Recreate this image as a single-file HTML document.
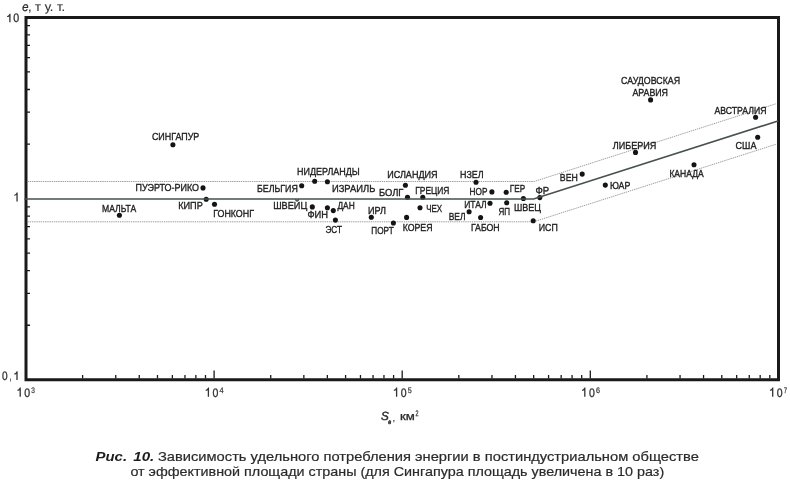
<!DOCTYPE html>
<html><head><meta charset="utf-8"><style>
html,body{margin:0;padding:0;background:#fff;}
body{width:790px;height:484px;overflow:hidden;position:relative;font-family:"Liberation Sans",sans-serif;}
svg{position:absolute;left:0;top:0;will-change:transform;}
text{font-family:"Liberation Sans",sans-serif;}
</style></head><body>
<svg width="790" height="484" viewBox="0 0 790 484">
<path d="M82.62 378.5V375 M115.75 378.5V375 M139.25 378.5V375 M157.48 378.5V375 M172.37 378.5V375 M184.96 378.5V375 M195.87 378.5V375 M205.49 378.5V375 M270.72 378.5V375 M303.85 378.5V375 M327.35 378.5V375 M345.58 378.5V375 M360.47 378.5V375 M373.06 378.5V375 M383.97 378.5V375 M393.59 378.5V375 M214.10 378.5V370.5 M458.82 378.5V375 M491.95 378.5V375 M515.45 378.5V375 M533.68 378.5V375 M548.57 378.5V375 M561.16 378.5V375 M572.07 378.5V375 M581.69 378.5V375 M402.20 378.5V370.5 M646.92 378.5V375 M680.05 378.5V375 M703.55 378.5V375 M721.78 378.5V375 M736.67 378.5V375 M749.26 378.5V375 M760.17 378.5V375 M769.79 378.5V375 M590.30 378.5V370.5 M27 325.25H30 M27 293.35H30 M27 270.71H30 M27 253.15H30 M27 238.80H30 M27 226.67H30 M27 216.16H30 M27 206.89H30 M27 144.05H30 M27 112.15H30 M27 89.51H30 M27 71.95H30 M27 57.60H30 M27 45.47H30 M27 34.96H30 M27 25.69H30" stroke="#1a1a1a" stroke-width="1.3" fill="none"/>
<path d="M26 379.8V17.4H778.5V379.8Z" fill="none" stroke="#1a1a1a" stroke-width="3"/>
<polyline points="27.5,181.5 534.2,181.5 776.5,103.6" fill="none" stroke="#999" stroke-width="0.95" stroke-dasharray="1.4 0.8"/>
<polyline points="27.5,221.8 533.6,221.8 776.5,144.1" fill="none" stroke="#999" stroke-width="0.95" stroke-dasharray="1.4 0.8"/>
<path d="M10.55 13.80V22.30H9.25V16.40C8.70 16.90 7.70 17.00 7.10 17.00V16.00C8.30 15.90 9.20 15.00 9.50 13.80Z" fill="#333"/>
<path d="M17.70 192.50V201.40H16.40V195.10C15.85 195.60 14.85 195.70 14.25 195.70V194.70C15.45 194.60 16.35 193.70 16.65 192.50Z" fill="#333"/>
<path d="M17.65 371.30V379.90H16.35V373.90C15.80 374.40 14.80 374.50 14.20 374.50V373.50C15.40 373.40 16.30 372.50 16.60 371.30Z" fill="#333"/>
<path d="M20.85 387.60V396.70H19.55V390.20C19.00 390.70 18.00 390.80 17.40 390.80V389.80C18.60 389.70 19.50 388.80 19.80 387.60Z" fill="#333"/>
<path d="M209.05 387.60V396.70H207.75V390.20C207.20 390.70 206.20 390.80 205.60 390.80V389.80C206.80 389.70 207.70 388.80 208.00 387.60Z" fill="#333"/>
<path d="M397.25 387.60V396.70H395.95V390.20C395.40 390.70 394.40 390.80 393.80 390.80V389.80C395.00 389.70 395.90 388.80 396.20 387.60Z" fill="#333"/>
<path d="M585.45 387.60V396.70H584.15V390.20C583.60 390.70 582.60 390.80 582.00 390.80V389.80C583.20 389.70 584.10 388.80 584.40 387.60Z" fill="#333"/>
<path d="M773.35 387.60V396.70H772.05V390.20C771.50 390.70 770.50 390.80 769.90 390.80V389.80C771.10 389.70 772.00 388.80 772.30 387.60Z" fill="#333"/>
<circle cx="172.9" cy="144.7" r="2.55" fill="#141414"/>
<circle cx="203.0" cy="187.9" r="2.55" fill="#141414"/>
<circle cx="119.4" cy="215.2" r="2.55" fill="#141414"/>
<circle cx="206.2" cy="199.3" r="2.55" fill="#141414"/>
<circle cx="214.5" cy="204.2" r="2.55" fill="#141414"/>
<circle cx="301.7" cy="185.7" r="2.55" fill="#141414"/>
<circle cx="314.7" cy="181.3" r="2.55" fill="#141414"/>
<circle cx="327.4" cy="181.8" r="2.55" fill="#141414"/>
<circle cx="312.3" cy="206.9" r="2.55" fill="#141414"/>
<circle cx="327.4" cy="207.7" r="2.55" fill="#141414"/>
<circle cx="333.3" cy="210.6" r="2.55" fill="#141414"/>
<circle cx="335.4" cy="220.1" r="2.55" fill="#141414"/>
<circle cx="371.3" cy="217.2" r="2.55" fill="#141414"/>
<circle cx="393.4" cy="223" r="2.55" fill="#141414"/>
<circle cx="406.6" cy="217.4" r="2.55" fill="#141414"/>
<circle cx="407.5" cy="197.3" r="2.55" fill="#141414"/>
<circle cx="405.4" cy="185.3" r="2.55" fill="#141414"/>
<circle cx="420" cy="207.8" r="2.55" fill="#141414"/>
<circle cx="422.8" cy="197.2" r="2.55" fill="#141414"/>
<circle cx="476" cy="182.2" r="2.55" fill="#141414"/>
<circle cx="491.9" cy="191.9" r="2.55" fill="#141414"/>
<circle cx="506.2" cy="192.3" r="2.55" fill="#141414"/>
<circle cx="490" cy="203.3" r="2.55" fill="#141414"/>
<circle cx="469.1" cy="211.8" r="2.55" fill="#141414"/>
<circle cx="480.6" cy="217.5" r="2.55" fill="#141414"/>
<circle cx="506.7" cy="202.8" r="2.55" fill="#141414"/>
<circle cx="523.4" cy="198.5" r="2.55" fill="#141414"/>
<circle cx="539.8" cy="197.6" r="2.55" fill="#141414"/>
<circle cx="533.2" cy="220.7" r="2.55" fill="#141414"/>
<circle cx="582.2" cy="174.1" r="2.55" fill="#141414"/>
<circle cx="605.3" cy="185.1" r="2.55" fill="#141414"/>
<circle cx="635.5" cy="152.4" r="2.55" fill="#141414"/>
<circle cx="650.6" cy="99.9" r="2.55" fill="#141414"/>
<circle cx="755.6" cy="117.3" r="2.55" fill="#141414"/>
<circle cx="757.7" cy="137.3" r="2.55" fill="#141414"/>
<circle cx="694" cy="164.8" r="2.55" fill="#141414"/>
<polyline points="24.4,199.0 533.6,199.0 778,121.0" fill="none" stroke="#485050" stroke-width="1.7"/>
<text x="151.90" y="140" textLength="47.40" lengthAdjust="spacingAndGlyphs" style="font-size:10.2px;fill:#1e1e1e;stroke:#1e1e1e;stroke-width:0.35px;text-rendering:geometricPrecision;">СИНГАПУР</text>
<text x="135.50" y="191.3" textLength="63.60" lengthAdjust="spacingAndGlyphs" style="font-size:10.2px;fill:#1e1e1e;stroke:#1e1e1e;stroke-width:0.35px;text-rendering:geometricPrecision;">ПУЭРТО-РИКО</text>
<text x="102.00" y="211.8" textLength="34.21" lengthAdjust="spacingAndGlyphs" style="font-size:10.2px;fill:#1e1e1e;stroke:#1e1e1e;stroke-width:0.35px;text-rendering:geometricPrecision;">МАЛЬТА</text>
<text x="178.20" y="209" textLength="24.61" lengthAdjust="spacingAndGlyphs" style="font-size:10.2px;fill:#1e1e1e;stroke:#1e1e1e;stroke-width:0.35px;text-rendering:geometricPrecision;">КИПР</text>
<text x="213.20" y="216.6" textLength="40.78" lengthAdjust="spacingAndGlyphs" style="font-size:10.2px;fill:#1e1e1e;stroke:#1e1e1e;stroke-width:0.35px;text-rendering:geometricPrecision;">ГОНКОНГ</text>
<text x="297.00" y="175.0" textLength="62.69" lengthAdjust="spacingAndGlyphs" style="font-size:10.2px;fill:#1e1e1e;stroke:#1e1e1e;stroke-width:0.35px;text-rendering:geometricPrecision;">НИДЕРЛАНДЫ</text>
<text x="257.00" y="191.5" textLength="40.81" lengthAdjust="spacingAndGlyphs" style="font-size:10.2px;fill:#1e1e1e;stroke:#1e1e1e;stroke-width:0.35px;text-rendering:geometricPrecision;">БЕЛЬГИЯ</text>
<text x="331.90" y="191.5" textLength="43.40" lengthAdjust="spacingAndGlyphs" style="font-size:10.2px;fill:#1e1e1e;stroke:#1e1e1e;stroke-width:0.35px;text-rendering:geometricPrecision;">ИЗРАИЛЬ</text>
<text x="273.20" y="208.7" textLength="34.05" lengthAdjust="spacingAndGlyphs" style="font-size:10.2px;fill:#1e1e1e;stroke:#1e1e1e;stroke-width:0.35px;text-rendering:geometricPrecision;">ШВЕЙЦ</text>
<text x="307.40" y="218" textLength="20.60" lengthAdjust="spacingAndGlyphs" style="font-size:10.2px;fill:#1e1e1e;stroke:#1e1e1e;stroke-width:0.35px;text-rendering:geometricPrecision;">ФИН</text>
<text x="337.44" y="208.9" textLength="17.27" lengthAdjust="spacingAndGlyphs" style="font-size:10.2px;fill:#1e1e1e;stroke:#1e1e1e;stroke-width:0.35px;text-rendering:geometricPrecision;">ДАН</text>
<text x="325.50" y="232.7" textLength="16.46" lengthAdjust="spacingAndGlyphs" style="font-size:10.2px;fill:#1e1e1e;stroke:#1e1e1e;stroke-width:0.35px;text-rendering:geometricPrecision;">ЭСТ</text>
<text x="368.00" y="213.6" textLength="18.00" lengthAdjust="spacingAndGlyphs" style="font-size:10.2px;fill:#1e1e1e;stroke:#1e1e1e;stroke-width:0.35px;text-rendering:geometricPrecision;">ИРЛ</text>
<text x="371.30" y="234.3" textLength="22.40" lengthAdjust="spacingAndGlyphs" style="font-size:10.2px;fill:#1e1e1e;stroke:#1e1e1e;stroke-width:0.35px;text-rendering:geometricPrecision;">ПОРТ</text>
<text x="402.70" y="230.8" textLength="29.81" lengthAdjust="spacingAndGlyphs" style="font-size:10.2px;fill:#1e1e1e;stroke:#1e1e1e;stroke-width:0.35px;text-rendering:geometricPrecision;">КОРЕЯ</text>
<text x="426.20" y="212.4" textLength="16.00" lengthAdjust="spacingAndGlyphs" style="font-size:10.2px;fill:#1e1e1e;stroke:#1e1e1e;stroke-width:0.35px;text-rendering:geometricPrecision;">ЧЕХ</text>
<text x="378.90" y="196.3" textLength="24.55" lengthAdjust="spacingAndGlyphs" style="font-size:10.2px;fill:#1e1e1e;stroke:#1e1e1e;stroke-width:0.35px;text-rendering:geometricPrecision;">БОЛГ</text>
<text x="387.20" y="178.1" textLength="50.40" lengthAdjust="spacingAndGlyphs" style="font-size:10.2px;fill:#1e1e1e;stroke:#1e1e1e;stroke-width:0.35px;text-rendering:geometricPrecision;">ИСЛАНДИЯ</text>
<text x="415.20" y="193.7" textLength="34.20" lengthAdjust="spacingAndGlyphs" style="font-size:10.2px;fill:#1e1e1e;stroke:#1e1e1e;stroke-width:0.35px;text-rendering:geometricPrecision;">ГРЕЦИЯ</text>
<text x="460.00" y="178.1" textLength="23.62" lengthAdjust="spacingAndGlyphs" style="font-size:10.2px;fill:#1e1e1e;stroke:#1e1e1e;stroke-width:0.35px;text-rendering:geometricPrecision;">НЗЕЛ</text>
<text x="469.60" y="195.4" textLength="17.82" lengthAdjust="spacingAndGlyphs" style="font-size:10.2px;fill:#1e1e1e;stroke:#1e1e1e;stroke-width:0.35px;text-rendering:geometricPrecision;">НОР</text>
<text x="464.20" y="208.3" textLength="22.42" lengthAdjust="spacingAndGlyphs" style="font-size:10.2px;fill:#1e1e1e;stroke:#1e1e1e;stroke-width:0.35px;text-rendering:geometricPrecision;">ИТАЛ</text>
<text x="448.70" y="219.8" textLength="16.82" lengthAdjust="spacingAndGlyphs" style="font-size:10.2px;fill:#1e1e1e;stroke:#1e1e1e;stroke-width:0.35px;text-rendering:geometricPrecision;">ВЕЛ</text>
<text x="470.90" y="230.8" textLength="28.81" lengthAdjust="spacingAndGlyphs" style="font-size:10.2px;fill:#1e1e1e;stroke:#1e1e1e;stroke-width:0.35px;text-rendering:geometricPrecision;">ГАБОН</text>
<text x="498.50" y="214.6" textLength="11.60" lengthAdjust="spacingAndGlyphs" style="font-size:10.2px;fill:#1e1e1e;stroke:#1e1e1e;stroke-width:0.35px;text-rendering:geometricPrecision;">ЯП</text>
<text x="509.80" y="191.9" textLength="15.34" lengthAdjust="spacingAndGlyphs" style="font-size:10.2px;fill:#1e1e1e;stroke:#1e1e1e;stroke-width:0.35px;text-rendering:geometricPrecision;">ГЕР</text>
<text x="535.50" y="193.7" textLength="13.73" lengthAdjust="spacingAndGlyphs" style="font-size:10.2px;fill:#1e1e1e;stroke:#1e1e1e;stroke-width:0.35px;text-rendering:geometricPrecision;">ФР</text>
<text x="513.90" y="210.5" textLength="27.02" lengthAdjust="spacingAndGlyphs" style="font-size:10.2px;fill:#1e1e1e;stroke:#1e1e1e;stroke-width:0.35px;text-rendering:geometricPrecision;">ШВЕЦ</text>
<text x="538.70" y="230.9" textLength="19.03" lengthAdjust="spacingAndGlyphs" style="font-size:10.2px;fill:#1e1e1e;stroke:#1e1e1e;stroke-width:0.35px;text-rendering:geometricPrecision;">ИСП</text>
<text x="559.80" y="180.7" textLength="18.00" lengthAdjust="spacingAndGlyphs" style="font-size:10.2px;fill:#1e1e1e;stroke:#1e1e1e;stroke-width:0.35px;text-rendering:geometricPrecision;">ВЕН</text>
<text x="609.90" y="189.2" textLength="20.40" lengthAdjust="spacingAndGlyphs" style="font-size:10.2px;fill:#1e1e1e;stroke:#1e1e1e;stroke-width:0.35px;text-rendering:geometricPrecision;">ЮАР</text>
<text x="612.80" y="148.8" textLength="43.61" lengthAdjust="spacingAndGlyphs" style="font-size:10.2px;fill:#1e1e1e;stroke:#1e1e1e;stroke-width:0.35px;text-rendering:geometricPrecision;">ЛИБЕРИЯ</text>
<text x="621.00" y="83.5" textLength="59.00" lengthAdjust="spacingAndGlyphs" style="font-size:10.2px;fill:#1e1e1e;stroke:#1e1e1e;stroke-width:0.35px;text-rendering:geometricPrecision;">САУДОВСКАЯ</text>
<text x="632.40" y="95.9" textLength="35.60" lengthAdjust="spacingAndGlyphs" style="font-size:10.2px;fill:#1e1e1e;stroke:#1e1e1e;stroke-width:0.35px;text-rendering:geometricPrecision;">АРАВИЯ</text>
<text x="714.50" y="114" textLength="52.01" lengthAdjust="spacingAndGlyphs" style="font-size:10.2px;fill:#1e1e1e;stroke:#1e1e1e;stroke-width:0.35px;text-rendering:geometricPrecision;">АВСТРАЛИЯ</text>
<text x="735.50" y="148.5" textLength="21.00" lengthAdjust="spacingAndGlyphs" style="font-size:10.2px;fill:#1e1e1e;stroke:#1e1e1e;stroke-width:0.35px;text-rendering:geometricPrecision;">США</text>
<text x="669.40" y="176.5" textLength="34.28" lengthAdjust="spacingAndGlyphs" style="font-size:10.2px;fill:#1e1e1e;stroke:#1e1e1e;stroke-width:0.35px;text-rendering:geometricPrecision;">КАНАДА</text>
<text x="13.20" y="22.3" textLength="5.93" lengthAdjust="spacingAndGlyphs" style="font-size:12.3px;fill:#2e2e2e;stroke:#2e2e2e;stroke-width:0.3px;text-rendering:geometricPrecision;">0</text>
<text x="2.00" y="379.9" textLength="5.61" lengthAdjust="spacingAndGlyphs" style="font-size:12.3px;fill:#2e2e2e;stroke:#2e2e2e;stroke-width:0.3px;text-rendering:geometricPrecision;">0</text>
<text x="9.75" y="379.9" textLength="1.66" lengthAdjust="spacingAndGlyphs" style="font-size:12.3px;fill:#2e2e2e;stroke:#2e2e2e;stroke-width:0.3px;text-rendering:geometricPrecision;">,</text>
<text x="24.30" y="396.7" textLength="5.86" lengthAdjust="spacingAndGlyphs" style="font-size:12.3px;fill:#2e2e2e;stroke:#2e2e2e;stroke-width:0.3px;text-rendering:geometricPrecision;">0</text>
<text x="31.30" y="392.8" textLength="3.61" lengthAdjust="spacingAndGlyphs" style="font-size:8.0px;fill:#3a3a3a;stroke:#3a3a3a;stroke-width:0.25px;text-rendering:geometricPrecision;">3</text>
<text x="212.50" y="396.7" textLength="5.86" lengthAdjust="spacingAndGlyphs" style="font-size:12.3px;fill:#2e2e2e;stroke:#2e2e2e;stroke-width:0.3px;text-rendering:geometricPrecision;">0</text>
<text x="219.50" y="392.8" textLength="4.09" lengthAdjust="spacingAndGlyphs" style="font-size:8.0px;fill:#3a3a3a;stroke:#3a3a3a;stroke-width:0.25px;text-rendering:geometricPrecision;">4</text>
<text x="400.70" y="396.7" textLength="5.86" lengthAdjust="spacingAndGlyphs" style="font-size:12.3px;fill:#2e2e2e;stroke:#2e2e2e;stroke-width:0.3px;text-rendering:geometricPrecision;">0</text>
<text x="407.70" y="392.8" textLength="4.00" lengthAdjust="spacingAndGlyphs" style="font-size:8.0px;fill:#3a3a3a;stroke:#3a3a3a;stroke-width:0.25px;text-rendering:geometricPrecision;">5</text>
<text x="588.90" y="396.7" textLength="5.86" lengthAdjust="spacingAndGlyphs" style="font-size:12.3px;fill:#2e2e2e;stroke:#2e2e2e;stroke-width:0.3px;text-rendering:geometricPrecision;">0</text>
<text x="595.90" y="392.8" textLength="4.00" lengthAdjust="spacingAndGlyphs" style="font-size:8.0px;fill:#3a3a3a;stroke:#3a3a3a;stroke-width:0.25px;text-rendering:geometricPrecision;">6</text>
<text x="776.80" y="396.7" textLength="5.86" lengthAdjust="spacingAndGlyphs" style="font-size:12.3px;fill:#2e2e2e;stroke:#2e2e2e;stroke-width:0.3px;text-rendering:geometricPrecision;">0</text>
<text x="783.65" y="392.8" textLength="3.35" lengthAdjust="spacingAndGlyphs" style="font-size:8.0px;fill:#3a3a3a;stroke:#3a3a3a;stroke-width:0.25px;text-rendering:geometricPrecision;">7</text>
<text x="22.30" y="11.2" textLength="6.25" lengthAdjust="spacingAndGlyphs" style="font-size:12.5px;font-style:italic;fill:#2e2e2e;stroke:#2e2e2e;stroke-width:0.35px;text-rendering:geometricPrecision;">e</text>
<text x="27.94" y="11.2" textLength="37.12" lengthAdjust="spacingAndGlyphs" style="font-size:12.5px;fill:#333;stroke:#333;stroke-width:0.12px;text-rendering:geometricPrecision;">, т у. т.</text>
<text x="380.90" y="419.8" textLength="7.79" lengthAdjust="spacingAndGlyphs" style="font-size:11.8px;font-style:italic;fill:#2e2e2e;stroke:#2e2e2e;stroke-width:0.45px;text-rendering:geometricPrecision;">S</text>
<text x="388.30" y="424.3" textLength="2.93" lengthAdjust="spacingAndGlyphs" style="font-size:6.5px;font-style:italic;fill:#2e2e2e;stroke:#2e2e2e;stroke-width:0.5px;text-rendering:geometricPrecision;">e</text>
<text x="393.07" y="420.5" textLength="1.81" lengthAdjust="spacingAndGlyphs" style="font-size:9px;fill:#2e2e2e;stroke:#2e2e2e;stroke-width:0.3px;text-rendering:geometricPrecision;">,</text>
<text x="399.90" y="419.8" textLength="14.82" lengthAdjust="spacingAndGlyphs" style="font-size:11.2px;fill:#2e2e2e;stroke:#2e2e2e;stroke-width:0.3px;text-rendering:geometricPrecision;">км</text>
<text x="415.60" y="415.7" textLength="2.99" lengthAdjust="spacingAndGlyphs" style="font-size:8.0px;fill:#2e2e2e;stroke:#2e2e2e;stroke-width:0.25px;text-rendering:geometricPrecision;">2</text>
<text x="95.60" y="460.9" textLength="31.45" lengthAdjust="spacingAndGlyphs" style="font-size:13.3px;font-style:italic;font-weight:bold;fill:#1c1c1c;">Рис.</text>
<text x="133.23" y="460.9" textLength="21.09" lengthAdjust="spacingAndGlyphs" style="font-size:13.3px;font-style:italic;font-weight:bold;fill:#1c1c1c;">10.</text>
<text x="157.93" y="460.9" textLength="540.97" lengthAdjust="spacingAndGlyphs" style="font-size:13.3px;fill:#2b2b2b;stroke:#2b2b2b;stroke-width:0.2px;">Зависимость удельного потребления энергии в постиндустриальном обществе</text>
<text x="130.40" y="475.9" textLength="533.78" lengthAdjust="spacingAndGlyphs" style="font-size:13.3px;fill:#2b2b2b;stroke:#2b2b2b;stroke-width:0.2px;">от эффективной площади страны (для Сингапура площадь увеличена в 10 раз)</text>
</svg>
</body></html>
